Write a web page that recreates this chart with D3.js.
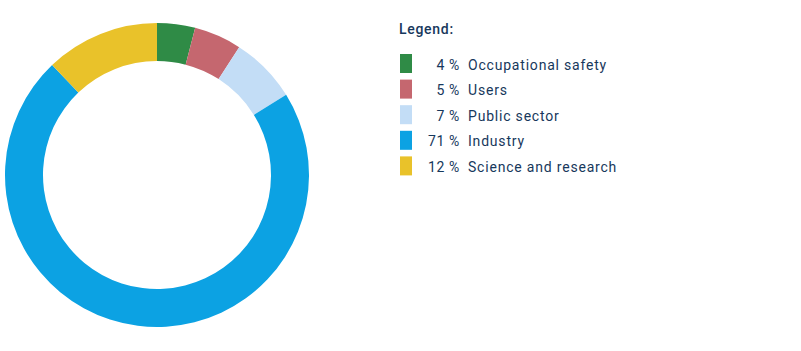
<!DOCTYPE html>
<html>
<head>
<meta charset="utf-8">
<script src="https://cdn.jsdelivr.net/npm/d3@7"></script>
<style>
  body { margin: 0; background: #fff; }
  text { font-family: "Roboto", sans-serif; fill: #17385c; letter-spacing: 0.8px; }
</style>
</head>
<body>
<svg id="chart" width="801" height="351"></svg>
<script>
const categories = ["Occupational safety", "Users", "Public sector", "Industry", "Science and research"];
const shares = [4, 5, 7, 71, 12];
const colors = ["#2f8b46", "#c5676f", "#c3ddf6", "#0ca2e3", "#e9c22a"];

const svg = d3.select("#chart");

const cx = 157, cy = 175,
    outerR = 152, innerR = 114;

const pie = d3.pie().sort(null).value(d => d);
const arc = d3.arc().innerRadius(innerR).outerRadius(outerR);

svg.append("g")
    .attr("transform", "translate(" + cx + "," + cy + ")")
    .selectAll("path")
    .data(pie(shares))
    .enter()
    .append("path")
    .attr("d", arc)
    .attr("fill", (d, i) => colors[i]);

// legend
const legend = svg.append("g").attr("transform", "translate(399,0)");

legend.append("text")
    .attr("x", 0)
    .attr("y", 34)
    .style("font-size", "14px")
    .style("font-weight", "500")
    .style("letter-spacing", "0.7px")
    .text("Legend:");

const row = d3.scaleBand()
    .domain(categories)
    .range([54, 182]);

const items = legend.selectAll(".item")
    .data(categories)
    .enter()
    .append("g")
    .attr("class", "item")
    .attr("transform", d => "translate(0," + row(d) + ")");

items.append("rect")
    .attr("x", 1)
    .attr("y", 0)
    .attr("width", 12)
    .attr("height", 19)
    .attr("fill", (d, i) => colors[i]);

items.append("text")
    .attr("x", 61)
    .attr("y", 15.5)
    .attr("text-anchor", "end")
    .style("font-size", "14px")
    .text((d, i) => shares[i] + "\u2009%");

items.append("text")
    .attr("x", 69)
    .attr("y", 15.5)
    .style("font-size", "14px")
    .text(d => d);
</script>
</body>
</html>
